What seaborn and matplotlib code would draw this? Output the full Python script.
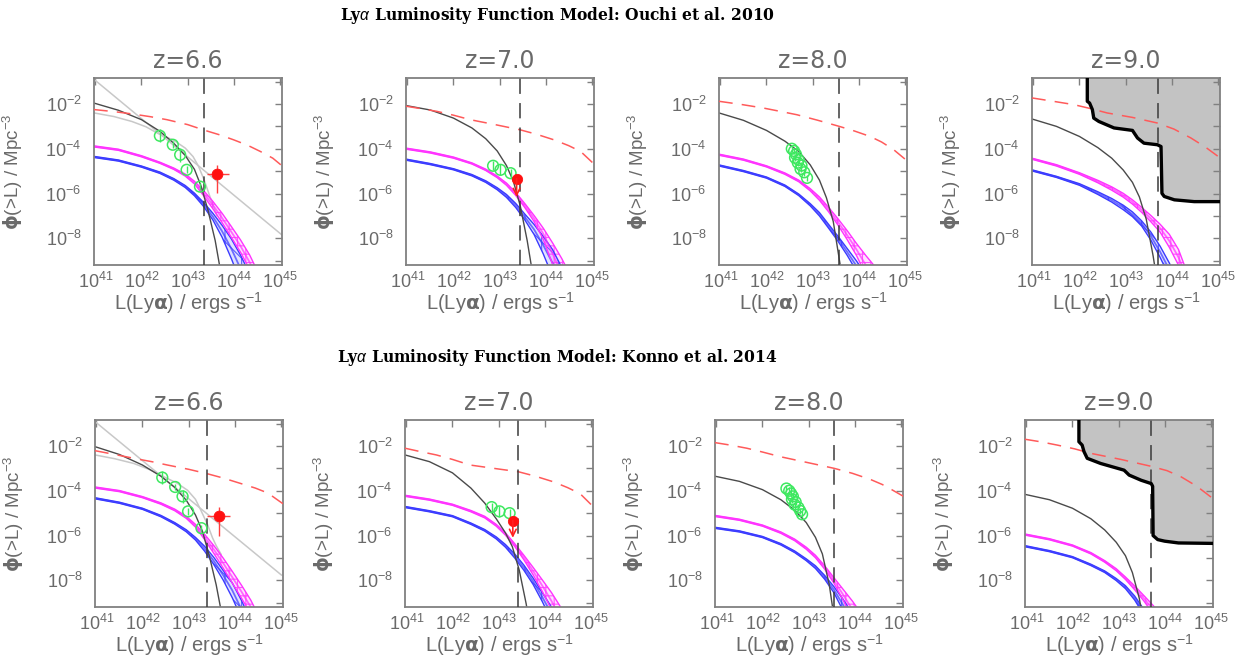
import numpy as np
import matplotlib
matplotlib.use("Agg")
import matplotlib.pyplot as plt
import seaborn as sns
from matplotlib.ticker import FixedLocator, FixedFormatter, NullLocator

sns.set_theme(style="white")
plt.rcParams['font.family'] = ['Liberation Sans', 'DejaVu Sans']
plt.rcParams['mathtext.fontset'] = 'custom'
plt.rcParams['mathtext.rm'] = 'Liberation Sans'
plt.rcParams['mathtext.it'] = 'Liberation Sans:italic'
plt.rcParams['mathtext.bf'] = 'DejaVu Sans:bold'
plt.rcParams['hatch.linewidth'] = 0.8

# ---------------- data (log10 values) ----------------
ROW_TITLES = [r"Ly$\alpha$ Luminosity Function Model: Ouchi et al. 2010",
              r"Ly$\alpha$ Luminosity Function Model: Konno et al. 2014"]
Z_LABELS = ["z=6.6", "z=7.0", "z=8.0", "z=9.0", "z=6.6", "z=7.0", "z=8.0", "z=9.0"]
X_TICK_EXP = [41, 42, 43, 44, 45]
Y_TICK_EXP = [-9, -8, -7, -6, -5, -4, -3, -2, -1]

LIMIT_LOGL = [43.35, 43.44, 43.58, 43.71, 43.39, 43.43, 43.56, 43.71]

RED_LOGL = [
    [40.97, 41.40, 41.82, 42.20, 42.55, 43.00, 43.38, 43.70, 44.00, 44.30, 44.58, 44.85, 45.05],
    [40.97, 41.30, 41.64, 42.00, 42.36, 42.90, 43.44, 43.80, 44.18, 44.50, 44.76, 45.07],
    [40.97, 41.45, 41.93, 42.30, 42.66, 43.10, 43.58, 43.90, 44.25, 44.50, 44.76, 45.07],
    [40.97, 41.40, 41.88, 42.25, 42.60, 43.15, 43.69, 44.05, 44.42, 44.75, 45.06],
    [40.97, 41.40, 41.81, 42.20, 42.54, 43.00, 43.39, 43.75, 44.14, 44.45, 44.72, 45.05],
    [40.97, 41.30, 41.65, 42.00, 42.38, 42.90, 43.43, 43.80, 44.19, 44.50, 44.77, 45.05],
    [40.97, 41.30, 41.66, 42.00, 42.39, 43.00, 43.56, 43.95, 44.35, 44.60, 44.78, 45.06],
    [40.97, 41.30, 41.67, 42.05, 42.40, 43.05, 43.69, 44.05, 44.36, 44.70, 45.05],
]
RED_LOGPHI = [
    [-2.25, -2.34, -2.45, -2.57, -2.70, -2.92, -3.18, -3.38, -3.60, -3.84, -4.12, -4.42, -4.76],
    [-2.10, -2.21, -2.33, -2.50, -2.70, -2.92, -3.15, -3.35, -3.60, -3.86, -4.12, -4.72],
    [-1.88, -2.02, -2.18, -2.33, -2.48, -2.72, -3.00, -3.20, -3.45, -3.70, -4.04, -4.57],
    [-1.73, -1.87, -2.03, -2.21, -2.40, -2.60, -2.85, -3.12, -3.52, -3.95, -4.42],
    [-2.21, -2.38, -2.55, -2.70, -2.85, -3.04, -3.23, -3.43, -3.68, -3.88, -4.10, -4.58],
    [-2.10, -2.25, -2.40, -2.60, -2.85, -3.00, -3.15, -3.35, -3.60, -3.86, -4.13, -4.70],
    [-1.85, -1.96, -2.10, -2.27, -2.48, -2.75, -3.00, -3.22, -3.50, -3.72, -3.92, -4.25],
    [-1.70, -1.81, -1.96, -2.13, -2.33, -2.60, -2.90, -3.10, -3.38, -3.80, -4.35],
]

BLACK_LOGL = [
    [40.97, 41.50, 42.00, 42.40, 42.70, 42.95, 43.15, 43.30, 43.45, 43.60, 43.72],
    [40.97, 41.50, 42.00, 42.40, 42.70, 42.95, 43.15, 43.30, 43.45, 43.60, 43.72],
    [40.97, 41.50, 42.00, 42.40, 42.70, 42.95, 43.15, 43.30, 43.45, 43.60, 43.68],
    [40.97, 41.50, 42.00, 42.40, 42.70, 42.95, 43.15, 43.30, 43.45, 43.60, 43.66],
    [40.97, 41.50, 42.00, 42.40, 42.70, 42.95, 43.15, 43.30, 43.45, 43.60, 43.72],
    [40.97, 41.50, 42.00, 42.40, 42.70, 42.95, 43.15, 43.30, 43.45, 43.60, 43.66],
    [40.97, 41.50, 42.00, 42.40, 42.70, 42.95, 43.15, 43.30, 43.45, 43.55],
    [40.97, 41.50, 42.00, 42.40, 42.70, 42.95, 43.15, 43.30, 43.45, 43.52],
]
BLACK_LOGPHI = [
    [-1.96, -2.28, -2.70, -3.22, -3.75, -4.30, -4.92, -5.70, -6.80, -8.10, -9.50],
    [-2.07, -2.27, -2.63, -3.07, -3.55, -4.10, -4.75, -5.45, -6.55, -8.10, -9.60],
    [-2.40, -2.73, -3.18, -3.66, -4.12, -4.72, -5.40, -6.18, -7.25, -9.19, -10.2],
    [-2.67, -3.00, -3.45, -3.95, -4.42, -4.95, -5.50, -6.15, -7.15, -8.80, -9.60],
    [-2.03, -2.38, -2.85, -3.35, -3.85, -4.42, -5.08, -5.80, -6.90, -8.20, -9.50],
    [-2.40, -2.70, -3.20, -3.88, -4.55, -5.25, -5.88, -6.50, -7.55, -9.05, -9.80],
    [-3.35, -3.58, -3.95, -4.40, -4.87, -5.42, -6.08, -6.82, -8.20, -9.60],
    [-4.16, -4.40, -4.78, -5.25, -5.75, -6.30, -6.90, -7.65, -8.80, -9.60],
]

BAND_LOGL = [40.97, 41.50, 42.00, 42.40, 42.70, 42.95, 43.15, 43.35, 43.55, 43.75, 43.95, 44.15, 44.35, 44.55]
MAGENTA_HI = [
    [-3.87, -4.02, -4.31, -4.60, -4.86, -5.13, -5.45, -5.87, -6.35, -6.88, -7.47, -8.07, -8.75, -9.60],
    [-3.97, -4.14, -4.37, -4.63, -4.91, -5.22, -5.53, -5.95, -6.45, -6.98, -7.55, -8.20, -8.90, -9.70],
    [-4.24, -4.46, -4.76, -5.08, -5.40, -5.78, -6.15, -6.62, -7.12, -7.65, -8.22, -8.75, -9.25, -10.2],
    [-4.42, -4.71, -5.07, -5.41, -5.70, -5.99, -6.28, -6.62, -6.98, -7.37, -7.82, -8.50, -9.60, -10.8],
    [-3.83, -3.99, -4.26, -4.54, -4.82, -5.14, -5.50, -5.95, -6.45, -7.00, -7.60, -8.22, -8.88, -9.70],
    [-4.20, -4.37, -4.60, -4.88, -5.14, -5.50, -5.88, -6.36, -6.88, -7.42, -7.98, -8.55, -9.20, -10.0],
    [-5.10, -5.27, -5.53, -5.84, -6.16, -6.52, -6.88, -7.35, -7.88, -8.40, -8.92, -9.50, -10.2, -11.0],
    [-5.93, -6.14, -6.42, -6.76, -7.12, -7.48, -7.85, -8.25, -8.68, -9.12, -9.60, -10.2, -11.0, -12.0],
]
MAGENTA_LO = [
    [-3.92, -4.07, -4.36, -4.65, -4.92, -5.22, -5.57, -6.10, -6.68, -7.30, -7.95, -8.62, -9.40, -10.3],
    [-4.02, -4.19, -4.42, -4.68, -4.97, -5.29, -5.63, -6.08, -6.63, -7.25, -8.05, -9.15, -10.3, -11.3],
    [-4.29, -4.51, -4.81, -5.14, -5.47, -5.88, -6.30, -6.82, -7.40, -8.05, -8.75, -9.60, -10.5, -11.5],
    [-4.47, -4.77, -5.14, -5.52, -5.85, -6.16, -6.47, -6.84, -7.26, -7.72, -8.40, -9.20, -10.1, -11.0],
    [-3.88, -4.04, -4.31, -4.60, -4.89, -5.23, -5.62, -6.18, -6.80, -7.45, -8.12, -8.80, -9.50, -10.4],
    [-4.25, -4.42, -4.65, -4.94, -5.21, -5.58, -5.98, -6.48, -7.08, -7.75, -8.50, -9.30, -10.2, -11.1],
    [-5.15, -5.32, -5.58, -5.90, -6.23, -6.61, -6.99, -7.50, -8.12, -8.88, -9.70, -10.6, -11.5, -12.5],
    [-5.98, -6.19, -6.47, -6.82, -7.19, -7.57, -7.96, -8.42, -8.92, -9.50, -10.2, -11.0, -12.0, -13.0],
]
BLUE_HI = [
    [-4.34, -4.50, -4.77, -5.04, -5.33, -5.64, -5.98, -6.40, -6.88, -7.42, -8.02, -8.75, -9.60, -10.5],
    [-4.46, -4.66, -4.89, -5.15, -5.43, -5.74, -6.04, -6.44, -6.92, -7.38, -7.92, -8.50, -9.30, -10.2],
    [-4.72, -4.97, -5.26, -5.62, -6.02, -6.45, -6.85, -7.38, -7.90, -8.45, -9.00, -9.60, -10.3, -11.0],
    [-4.94, -5.23, -5.56, -5.92, -6.22, -6.52, -6.82, -7.22, -7.72, -8.35, -9.10, -9.95, -10.9, -12.0],
    [-4.31, -4.51, -4.78, -5.10, -5.42, -5.74, -6.08, -6.48, -6.98, -7.55, -8.12, -8.90, -9.80, -10.8],
    [-4.70, -4.89, -5.11, -5.44, -5.73, -6.06, -6.40, -6.82, -7.32, -7.90, -8.55, -9.20, -10.0, -10.9],
    [-5.63, -5.79, -6.04, -6.36, -6.69, -7.04, -7.35, -7.78, -8.28, -8.85, -9.50, -10.2, -11.0, -12.0],
    [-6.45, -6.67, -6.94, -7.28, -7.58, -7.92, -8.24, -8.70, -9.30, -10.0, -10.8, -11.6, -12.4, -13.2],
]
BLUE_LO = [
    [-4.39, -4.55, -4.82, -5.10, -5.40, -5.73, -6.10, -6.58, -7.18, -7.95, -8.90, -9.95, -11.0, -12.0],
    [-4.51, -4.71, -4.94, -5.21, -5.50, -5.83, -6.17, -6.62, -7.18, -7.83, -8.70, -9.70, -10.8, -12.0],
    [-4.77, -5.02, -5.31, -5.68, -6.09, -6.55, -7.00, -7.55, -8.12, -8.75, -9.45, -10.2, -11.0, -12.0],
    [-4.99, -5.28, -5.63, -6.04, -6.38, -6.72, -7.03, -7.45, -8.08, -8.85, -9.70, -10.6, -11.6, -12.6],
    [-4.36, -4.56, -4.83, -5.16, -5.49, -5.83, -6.20, -6.70, -7.30, -7.98, -8.78, -9.70, -10.7, -11.7],
    [-4.75, -4.94, -5.16, -5.50, -5.80, -6.15, -6.52, -7.00, -7.55, -8.18, -8.95, -9.80, -10.7, -11.7],
    [-5.68, -5.84, -6.09, -6.42, -6.76, -7.12, -7.47, -7.95, -8.55, -9.35, -10.2, -11.1, -12.0, -13.0],
    [-6.50, -6.72, -6.99, -7.34, -7.65, -8.01, -8.37, -8.88, -9.55, -10.3, -11.1, -11.9, -12.7, -13.5],
]

# light grey comparison curves (z=6.6 panels only)
GREY_LINE_LOGL = {0: [40.97, 45.05], 4: [40.97, 45.02]}
GREY_LINE_LOGPHI = {0: [-0.90, -7.85], 4: [-0.91, -7.77]}
GREY_CURVE_LOGL = {0: [40.97, 41.40, 41.79, 42.10, 42.37, 42.70, 42.95, 43.12, 43.24, 43.36, 43.48, 43.56, 43.64],
                   4: [40.97, 41.40, 41.81, 42.15, 42.47, 42.75, 42.98, 43.15, 43.27, 43.41, 43.52, 43.60, 43.71]}
GREY_CURVE_LOGPHI = {0: [-2.40, -2.56, -2.78, -3.02, -3.33, -3.62, -3.97, -4.35, -4.79, -5.39, -6.10, -6.55, -7.00],
                     4: [-2.40, -2.57, -2.78, -3.05, -3.38, -3.66, -3.98, -4.38, -4.88, -5.50, -6.10, -6.45, -6.85]}

# green open circles (observed LAE number densities)
GREEN_LOGL = {
    0: [42.40, 42.68, 42.84, 42.98, 43.27],
    1: [42.86, 43.02, 43.24],
    2: [42.55, 42.60, 42.64, 42.62, 42.70, 42.68, 42.76, 42.74, 42.82, 42.88],
    4: [42.43, 42.71, 42.87, 42.99, 43.28],
    5: [42.85, 43.02, 43.24],
    6: [42.52, 42.58, 42.62, 42.66, 42.64, 42.72, 42.70, 42.78, 42.82, 42.86],
}
GREEN_LOGPHI = {
    0: [-3.42, -3.82, -4.27, -4.94, -5.69],
    1: [-4.76, -4.94, -5.09],
    2: [-4.00, -4.10, -4.25, -4.40, -4.50, -4.62, -4.75, -4.90, -5.05, -5.30],
    4: [-3.41, -3.83, -4.25, -4.92, -5.67],
    5: [-4.73, -4.92, -5.00],
    6: [-3.90, -4.00, -4.12, -4.25, -4.38, -4.50, -4.62, -4.75, -4.90, -5.05],
}
GREEN_ERR = {
    0: [0.30, 0.15, 0.30, 0.15, 0.15],
    1: [0.20, 0.25, 0.20],
    2: [0.15] * 10,
    4: [0.30, 0.15, 0.30, 0.15, 0.15],
    5: [0.20, 0.25, 0.20],
    6: [0.15] * 10,
}

# red filled point (bright source) : logL, logphi, L range, phi range
RED_PT = {
    0: (43.65, -5.13, (43.42, 43.89), (-4.72, -5.99)),
    4: (43.67, -5.13, (43.41, 43.89), (-4.73, -6.00)),
}
# red upper limits : logL, logphi, arrow tip
RED_LIM = {1: (43.37, -5.34, -6.15), 5: (43.31, -5.33, -6.10)}

# excluded region (grey) in z=9 panels
EXCL_LOGL = {
    3: [42.17, 42.17, 42.22, 42.28, 42.31, 42.42, 42.75, 43.15, 43.26, 43.40, 43.69,
        43.77, 43.79, 43.84, 44.06, 44.49, 45.06],
    7: [42.14, 42.14, 42.21, 42.25, 42.32, 42.61, 43.12, 43.23, 43.49, 43.71, 43.74,
        43.75, 43.85, 44.00, 44.30, 45.05],
}
EXCL_LOGPHI = {
    3: [-0.84, -1.88, -1.96, -2.25, -2.63, -2.78, -3.07, -3.18, -3.52, -3.75, -3.82,
        -3.90, -5.99, -6.13, -6.28, -6.36, -6.36],
    7: [-0.84, -1.81, -1.96, -2.25, -2.55, -2.78, -3.08, -3.30, -3.53, -3.68, -3.80,
        -6.00, -6.18, -6.25, -6.33, -6.35],
}

# ---------------- layout / style ----------------
W, H = 1244, 666
AX_LEFT = [94, 406, 719, 1032, 95, 405, 715, 1025]
AX_TOP = [78] * 4 + [420] * 4
AX_W, AX_H = 188, 187
XLIM = (10 ** 40.97, 10 ** 45.05)
YLIM = (10 ** -9.19, 10 ** -0.84)

GREY = '#808080'
TXT = '#6a6a6a'
C_RED = '#ff5a5a'
C_BLACK = '#4a4a4a'
C_LGREY = '#c8c8c8'
C_MAG = '#ff33ff'
C_BLUE = '#3b3bff'
C_GREEN = '#3ee860'


def p(v):
    return 10 ** np.asarray(v, dtype=float)


fig = plt.figure(figsize=(W / 100, H / 100), dpi=100)
bx = p(BAND_LOGL)

for i in range(8):
    l = AX_LEFT[i] / W
    b = 1 - (AX_TOP[i] + AX_H) / H
    ax = fig.add_axes([l, b, AX_W / W, AX_H / H])
    ax.set_xscale('log')
    ax.set_yscale('log')

    # excluded region
    if i in EXCL_LOGL:
        ex, ey = p(EXCL_LOGL[i]), p(EXCL_LOGPHI[i])
        ax.fill(np.r_[ex, ex[-1] * 1.2, ex[-1] * 1.2, ex[0]],
                np.r_[ey, ey[-1], 1.0, 1.0], color='#c3c3c3', lw=0, zorder=0.5)
        sns.lineplot(x=ex, y=ey, ax=ax, color='black', lw=2.4, sort=False,
                     estimator=None, zorder=3)

    # grey comparison curves
    if i in GREY_LINE_LOGL:
        sns.lineplot(x=p(GREY_LINE_LOGL[i]), y=p(GREY_LINE_LOGPHI[i]), ax=ax,
                     color=C_LGREY, lw=1.1, sort=False, estimator=None, zorder=1)
        sns.lineplot(x=p(GREY_CURVE_LOGL[i]), y=p(GREY_CURVE_LOGPHI[i]), ax=ax,
                     color=C_LGREY, lw=1.1, sort=False, estimator=None, zorder=1)

    # model bands
    for hi, lo, col, hatch in ((BLUE_HI, BLUE_LO, C_BLUE, '\\\\|'),
                               (MAGENTA_HI, MAGENTA_LO, C_MAG, '++')):
        yh, yl = p(hi[i]), p(lo[i])
        ax.fill_between(bx, yl, yh, facecolor=matplotlib.colors.to_rgba(col, 0.15),
                        edgecolor=matplotlib.colors.to_rgba(col, 0.8), hatch=hatch,
                        lw=0, zorder=1.5)
        sns.lineplot(x=bx, y=yh, ax=ax, color=col, lw=1.0, sort=False,
                     estimator=None, zorder=2)
        sns.lineplot(x=bx, y=yl, ax=ax, color=col, lw=1.0, sort=False,
                     estimator=None, zorder=2)
        sns.lineplot(x=bx, y=np.sqrt(yh * yl), ax=ax, color=col, lw=1.3,
                     alpha=0.7, sort=False, estimator=None, zorder=2)

    # Schechter-like model curve
    sns.lineplot(x=p(BLACK_LOGL[i]), y=p(BLACK_LOGPHI[i]), ax=ax, color=C_BLACK,
                 lw=1.0, sort=False, estimator=None, zorder=2.5)

    # red dashed curve
    sns.lineplot(x=p(RED_LOGL[i]), y=p(RED_LOGPHI[i]), ax=ax, color=C_RED,
                 lw=1.1, sort=False, estimator=None, linestyle=(0, (9, 6)), zorder=2.6)

    # survey limit
    ax.axvline(10 ** LIMIT_LOGL[i], color='#3a3a3a', lw=1.1, dashes=(10, 6), zorder=2.7)

    # green data points
    if i in GREEN_LOGL:
        gx, gy, ge = np.array(GREEN_LOGL[i]), np.array(GREEN_LOGPHI[i]), np.array(GREEN_ERR[i])
        ax.vlines(p(gx), p(gy - ge), p(gy + ge), color=C_GREEN, lw=1.0, zorder=3)
        sns.scatterplot(x=p(gx), y=p(gy), ax=ax, marker='o', s=60, facecolors='none',
                        edgecolor=C_GREEN, linewidth=1.1, zorder=3.2)

    # red bright source
    if i in RED_PT:
        rx, ry, (xa, xb), (ya, yb) = RED_PT[i]
        ax.errorbar([10 ** rx], [10 ** ry],
                    xerr=[[10 ** rx - 10 ** xa], [10 ** xb - 10 ** rx]],
                    yerr=[[10 ** ry - 10 ** yb], [10 ** ya - 10 ** ry]],
                    fmt='none', ecolor='#ff4040', elinewidth=1.0, zorder=3.3)
        sns.scatterplot(x=[10 ** rx], y=[10 ** ry], ax=ax, color='#ff1010', s=60,
                        edgecolor='#ff1010', zorder=3.4)
    if i in RED_LIM:
        rx, ry, tip = RED_LIM[i]
        ax.annotate('', xy=(10 ** rx, 10 ** tip), xytext=(10 ** rx, 10 ** ry),
                    arrowprops=dict(arrowstyle='->', color='#ff2020', lw=1.2,
                                    mutation_scale=12, shrinkA=0, shrinkB=0), zorder=3.5)
        sns.scatterplot(x=[10 ** rx], y=[10 ** ry], ax=ax, color='#ff1010', s=55,
                        edgecolor='#ff1010', zorder=3.4)

    ax.set_xlim(*XLIM)
    ax.set_ylim(*YLIM)
    ax.xaxis.set_major_locator(FixedLocator([10.0 ** e for e in X_TICK_EXP]))
    ax.xaxis.set_major_formatter(FixedFormatter([r'$10^{%d}$' % e for e in X_TICK_EXP]))
    ax.yaxis.set_major_locator(FixedLocator([10.0 ** e for e in Y_TICK_EXP]))
    ax.yaxis.set_major_formatter(FixedFormatter(
        [(r'$10^{%d}$' % e) if e % 2 == 0 else '' for e in Y_TICK_EXP]))
    ax.xaxis.set_minor_locator(NullLocator())
    ax.yaxis.set_minor_locator(NullLocator())
    ax.tick_params(which='major', direction='in', top=True, right=True, length=5,
                   width=1.0, color=GREY, labelcolor=TXT, labelsize=13)
    ax.tick_params(axis='x', pad=5)
    ax.tick_params(axis='y', pad=9)
    for s in ax.spines.values():
        s.set_color(GREY)
        s.set_linewidth(1.3)
    ax.grid(False)

    ax.set_xlabel(r'L(Ly$\mathbf{\alpha}$) / ergs s$^{-1}$', color=TXT, fontsize=14.5)
    ax.set_ylabel(r'$\mathbf{\phi}$(>L) / Mpc$^{-3}$', color=TXT, fontsize=13.5)
    ax.xaxis.set_label_coords(0.5, -0.135)
    ax.yaxis.set_label_coords(-0.365, 0.5)
    ax.text(0.5, 1.09, Z_LABELS[i], transform=ax.transAxes, ha='center', va='center',
            color=TXT, fontsize=17, family='DejaVu Sans')

for r, yc in enumerate([15, 357]):
    fig.text(557 / W, 1 - yc / H, ROW_TITLES[r], ha='center', va='center',
             fontsize=11.2, fontweight='bold', family='DejaVu Serif', color='black')

fig.savefig('out.png', dpi=100)
